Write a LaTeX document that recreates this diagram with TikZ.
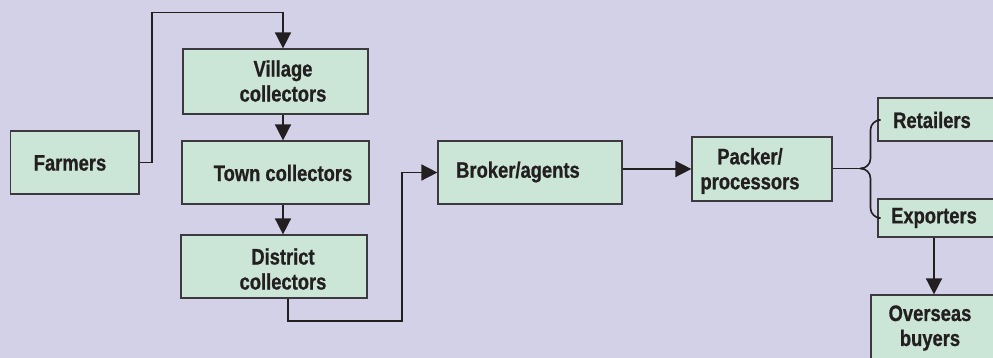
\documentclass[tikz,border=0pt]{standalone}
\usepackage{fontspec}
\newfontfamily\lblfont{Liberation Sans}[FakeStretch=0.82,FakeBold=0.8]
\usetikzlibrary{arrows.meta,fit}
\definecolor{bgcol}{RGB}{211,209,232}
\definecolor{boxfill}{RGB}{203,230,214}
\definecolor{boxline}{RGB}{60,58,62}
\definecolor{ink}{RGB}{35,31,32}
\tikzset{
  stagebox/.style={draw=boxline, fill=boxfill, line width=0.6pt, inner sep=0pt, rectangle},
  lbl/.style={font=\lblfont\bfseries\fontsize{11.2}{12.5}\selectfont, text=ink, align=center, inner sep=0pt},
  flow/.style={draw=ink, line width=0.8pt, -{Triangle[width=8pt,length=8pt]}},
  link/.style={draw=ink, line width=0.8pt},
}
\begin{document}
\begin{tikzpicture}[x=0.5pt,y=-0.5pt]
  % canvas
  \fill[bgcol] (0,0) rectangle (993,358);
  \useasboundingbox (0,0) rectangle (993,358);
  \clip (0,0) rectangle (993,358);

  % stage boxes
  \node[stagebox, fit={(10.7,131) (139,194)}] (farmers) {};
  \node[stagebox, fit={(183,49) (368,114)}] (village) {};
  \node[stagebox, fit={(182,141) (369,204)}] (town) {};
  \node[stagebox, fit={(181,235) (367,298)}] (district) {};
  \node[stagebox, fit={(438,141) (622,204)}] (broker) {};
  \node[stagebox, fit={(692,137) (832,201)}] (packer) {};
  \node[stagebox, fit={(878,98) (1010,141)}] (retail) {};
  \node[stagebox, fit={(878,199) (1010,237)}] (export) {};
  \node[stagebox, fit={(871,295) (1010,380)}] (overseas) {};

  % labels
  \node[lbl] (tfarm) at (70,163) {Farmers};
  \node[lbl] (tvill) at (283,81) {Village\\collectors};
  \node[lbl] (ttown) at (283,173) {Town collectors};
  \node[lbl] (tdist) at (283,269) {District\\collectors};
  \node[lbl] (tbrok) at (518,172) {Broker/agents};
  \node[lbl] (tpack) at (750,171) {Packer/\\processors};
  \node[lbl] (tret) at (932,120) {Retailers};
  \node[lbl] (texp) at (934,218) {Exporters};
  \node[lbl] (tover) at (930,328) {Overseas\\buyers};

  % bend points
  \coordinate (ftop) at (152,12.7);
  \coordinate (dturn) at (402,321);
  \coordinate (tip) at (864,168.5);
  \coordinate (bx) at (870.5,168.5);

  % connectors
  \draw[flow] (farmers.east) -| (ftop) -| (village.north -| tvill);
  \draw[flow] (village.south -| tvill) -- (town.north -| tvill);
  \draw[flow] (town.south -| tvill) -- (district.north -| tvill);
  \draw[flow] ([xshift=7pt]district.south) |- (dturn) |- (broker.west);
  \draw[flow] (packer.west -| broker.east) -- (packer.west);
  \draw[link] (packer.east |- tip) -- (tip);
  \draw[link, rounded corners=5pt] (retail.west |- tret) -| (bx) -- (tip);
  \draw[link, rounded corners=5pt] (export.west |- texp) -| (bx) -- (tip);
  \draw[flow] (export.south -| texp) -- (overseas.north -| texp);
\end{tikzpicture}
\end{document}
